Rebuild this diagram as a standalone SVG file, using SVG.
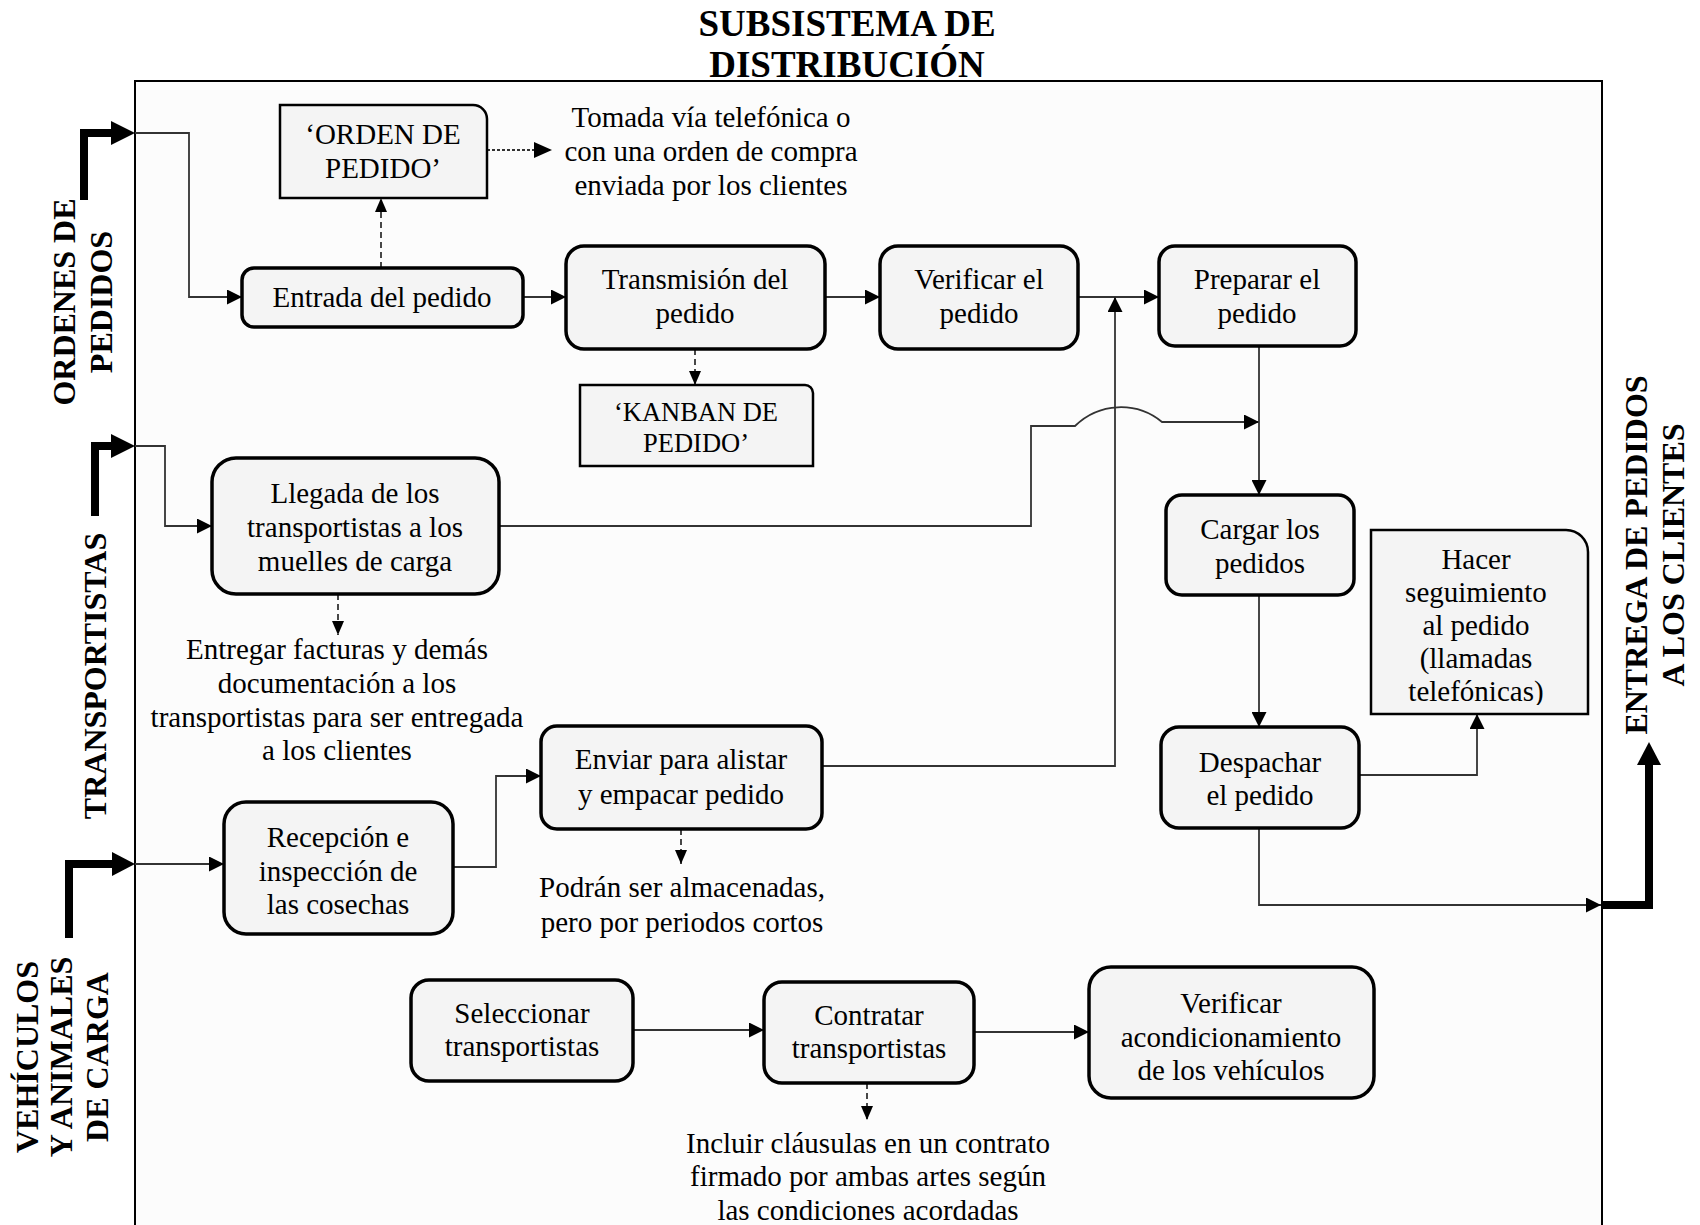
<svg xmlns="http://www.w3.org/2000/svg" width="1700" height="1225" viewBox="0 0 1700 1225">
<defs>
<style>
text{font-family:"Liberation Serif","Times New Roman",serif;fill:#000}
.t{font-size:29px;text-anchor:middle}
.k{font-size:26.5px;text-anchor:middle}
.b{font-size:32px;font-weight:bold;text-anchor:middle}
.title{font-size:37px;font-weight:bold;text-anchor:middle}
.box{fill:#f4f4f4;stroke:#000;stroke-width:3.5}
.doc{fill:#f4f4f4;stroke:#000;stroke-width:2.5}
.c{fill:none;stroke:#333;stroke-width:1.8}
.d{fill:none;stroke:#333;stroke-width:1.8;stroke-dasharray:6 4}
.dot{fill:none;stroke:#333;stroke-width:1.8;stroke-dasharray:3 2}
.thick{fill:none;stroke:#000;stroke-width:8}
</style>
<marker id="a" markerUnits="userSpaceOnUse" markerWidth="15" markerHeight="15" refX="15" refY="7.5" orient="auto"><path d="M0,0 L15,7.5 L0,15 z" fill="#000"/></marker>
<marker id="s" markerUnits="userSpaceOnUse" markerWidth="14" markerHeight="12" refX="14" refY="6" orient="auto"><path d="M0,0 L14,6 L0,12 z" fill="#000"/></marker>
<marker id="m" markerUnits="userSpaceOnUse" markerWidth="18" markerHeight="16" refX="18" refY="8" orient="auto"><path d="M0,0 L18,8 L0,16 z" fill="#000"/></marker>
<clipPath id="hclip"><rect x="1371" y="530" width="217" height="175"/></clipPath>
</defs>
<rect x="0" y="0" width="1700" height="1225" fill="#fff"/>
<g id="title">
<text class="title" x="847" y="36">SUBSISTEMA DE</text>
<text class="title" x="847" y="77">DISTRIBUCIÓN</text>
</g>
<rect id="frame" x="135" y="81" width="1467" height="1170" fill="#fcfcfc" stroke="#000" stroke-width="2"/>

<g id="connectors">
<path class="c" d="M135,133 H189 V297 H242" marker-end="url(#a)"/>
<path class="c" d="M523,297 H566" marker-end="url(#a)"/>
<path class="c" d="M825,297 H880" marker-end="url(#a)"/>
<path class="c" d="M1078,297 H1159" marker-end="url(#a)"/>
<path class="d" d="M381,268 V198" marker-end="url(#s)"/>
<path class="dot" d="M487,150 H552" marker-end="url(#m)"/>
<path class="d" d="M695,349 V385" marker-end="url(#s)"/>
<path class="c" d="M135,446 H165 V526 H212" marker-end="url(#a)"/>
<path class="c" d="M499,526 H1031 V426 H1075 A65,65 0 0 1 1162,422 H1259" marker-end="url(#a)"/>
<path class="d" d="M338,594 V635" marker-end="url(#s)"/>
<path class="c" d="M135,864 H224" marker-end="url(#a)"/>
<path class="c" d="M453,867 H496 V776 H541" marker-end="url(#a)"/>
<path class="c" d="M822,766 H1115 V297" marker-end="url(#a)"/>
<path class="d" d="M681,829 V864" marker-end="url(#s)"/>
<path class="c" d="M1259,346 V495" marker-end="url(#a)"/>
<path class="c" d="M1259,595 V727" marker-end="url(#a)"/>
<path class="c" d="M1359,775 H1477 V714" marker-end="url(#a)"/>
<path class="c" d="M1259,828 V905 H1601" marker-end="url(#a)"/>
<path class="c" d="M633,1030 H764" marker-end="url(#a)"/>
<path class="c" d="M974,1032 H1089" marker-end="url(#a)"/>
<path class="d" d="M867,1083 V1120" marker-end="url(#s)"/>
<path class="thick" d="M84,200 V133 H112"/>
<path d="M111,121 L135,133 L111,145 z" fill="#000"/>
<path class="thick" d="M95,516 V446 H112"/>
<path d="M111,434 L135,446 L111,458 z" fill="#000"/>
<path class="thick" d="M69,938 V864 H113"/>
<path d="M112,852 L135,864 L112,876 z" fill="#000"/>
<path class="thick" d="M1602,905 H1649 V763"/>
<path d="M1637,765 L1649,742 L1661,765 z" fill="#000"/>
</g>

<g id="lbl-ordenes">
<text class="b" transform="translate(75,302) rotate(-90)">ORDENES DE</text>
<text class="b" transform="translate(112,302) rotate(-90)">PEDIDOS</text>
</g>
<g id="lbl-transportistas">
<text class="b" transform="translate(106,676) rotate(-90)">TRANSPORTISTAS</text>
</g>
<g id="lbl-vehiculos">
<text class="b" transform="translate(38,1057) rotate(-90)">VEHÍCULOS</text>
<text class="b" transform="translate(72,1057) rotate(-90)">Y ANIMALES</text>
<text class="b" transform="translate(108,1057) rotate(-90)">DE CARGA</text>
</g>
<g id="lbl-entrega">
<text class="b" transform="translate(1647,555) rotate(-90)">ENTREGA DE PEDIDOS</text>
<text class="b" transform="translate(1684,555) rotate(-90)">A LOS CLIENTES</text>
</g>

<g id="orden">
<path class="doc" d="M280,105 H473 A14,14 0 0 1 487,119 V198 H280 Z"/>
<text class="t" x="383" y="144">‘ORDEN DE</text>
<text class="t" x="383" y="178">PEDIDO’</text>
</g>
<g id="nota-tomada">
<text class="t" x="711" y="127">Tomada vía telefónica o</text>
<text class="t" x="711" y="161">con una orden de compra</text>
<text class="t" x="711" y="195">enviada por los clientes</text>
</g>
<g id="entrada">
<rect class="box" x="242" y="268" width="281" height="59" rx="12"/>
<text class="t" x="382" y="307">Entrada del pedido</text>
</g>
<g id="transmision">
<rect class="box" x="566" y="246" width="259" height="103" rx="18"/>
<text class="t" x="695" y="289">Transmisión del</text>
<text class="t" x="695" y="323">pedido</text>
</g>
<g id="verificar">
<rect class="box" x="880" y="246" width="198" height="103" rx="18"/>
<text class="t" x="979" y="289">Verificar el</text>
<text class="t" x="979" y="323">pedido</text>
</g>
<g id="preparar">
<rect class="box" x="1159" y="246" width="197" height="100" rx="16"/>
<text class="t" x="1257" y="289">Preparar el</text>
<text class="t" x="1257" y="323">pedido</text>
</g>
<g id="kanban">
<path class="doc" d="M580,385 H805 A8,8 0 0 1 813,393 V466 H580 Z"/>
<text class="k" x="696" y="421">‘KANBAN DE</text>
<text class="k" x="696" y="452">PEDIDO’</text>
</g>
<g id="llegada">
<rect class="box" x="212" y="458" width="287" height="136" rx="24"/>
<text class="t" x="355" y="503">Llegada de los</text>
<text class="t" x="355" y="537">transportistas a los</text>
<text class="t" x="355" y="571">muelles de carga</text>
</g>
<g id="nota-entregar">
<text class="t" x="337" y="659">Entregar facturas y demás</text>
<text class="t" x="337" y="693">documentación a los</text>
<text class="t" x="337" y="727">transportistas para ser entregada</text>
<text class="t" x="337" y="760">a los clientes</text>
</g>
<g id="cargar">
<rect class="box" x="1166" y="495" width="188" height="100" rx="16"/>
<text class="t" x="1260" y="539">Cargar los</text>
<text class="t" x="1260" y="573">pedidos</text>
</g>
<g id="hacer">
<path class="doc" d="M1371,530 H1566 A22,22 0 0 1 1588,552 V714 H1371 Z"/>
<g clip-path="url(#hclip)">
<text class="t" x="1476" y="569">Hacer</text>
<text class="t" x="1476" y="602">seguimiento</text>
<text class="t" x="1476" y="635">al pedido</text>
<text class="t" x="1476" y="668">(llamadas</text>
<text class="t" x="1476" y="701">telefónicas)</text>
</g>
</g>
<g id="enviar">
<rect class="box" x="541" y="726" width="281" height="103" rx="16"/>
<text class="t" x="681" y="769">Enviar para alistar</text>
<text class="t" x="681" y="804">y empacar pedido</text>
</g>
<g id="despachar">
<rect class="box" x="1161" y="727" width="198" height="101" rx="18"/>
<text class="t" x="1260" y="772">Despachar</text>
<text class="t" x="1260" y="805">el pedido</text>
</g>
<g id="recepcion">
<rect class="box" x="224" y="802" width="229" height="132" rx="22"/>
<text class="t" x="338" y="847">Recepción e</text>
<text class="t" x="338" y="881">inspección de</text>
<text class="t" x="338" y="914">las cosechas</text>
</g>
<g id="nota-podran">
<text class="t" x="682" y="897">Podrán ser almacenadas,</text>
<text class="t" x="682" y="932">pero por periodos cortos</text>
</g>
<g id="seleccionar">
<rect class="box" x="411" y="980" width="222" height="101" rx="18"/>
<text class="t" x="522" y="1023">Seleccionar</text>
<text class="t" x="522" y="1056">transportistas</text>
</g>
<g id="contratar">
<rect class="box" x="764" y="982" width="210" height="101" rx="18"/>
<text class="t" x="869" y="1025">Contratar</text>
<text class="t" x="869" y="1058">transportistas</text>
</g>
<g id="verificar-acond">
<rect class="box" x="1089" y="967" width="285" height="131" rx="22"/>
<text class="t" x="1231" y="1013">Verificar</text>
<text class="t" x="1231" y="1047">acondicionamiento</text>
<text class="t" x="1231" y="1080">de los vehículos</text>
</g>
<g id="nota-incluir">
<text class="t" x="868" y="1153">Incluir cláusulas en un contrato</text>
<text class="t" x="868" y="1186">firmado por ambas artes según</text>
<text class="t" x="868" y="1220">las condiciones acordadas</text>
</g>
</svg>
